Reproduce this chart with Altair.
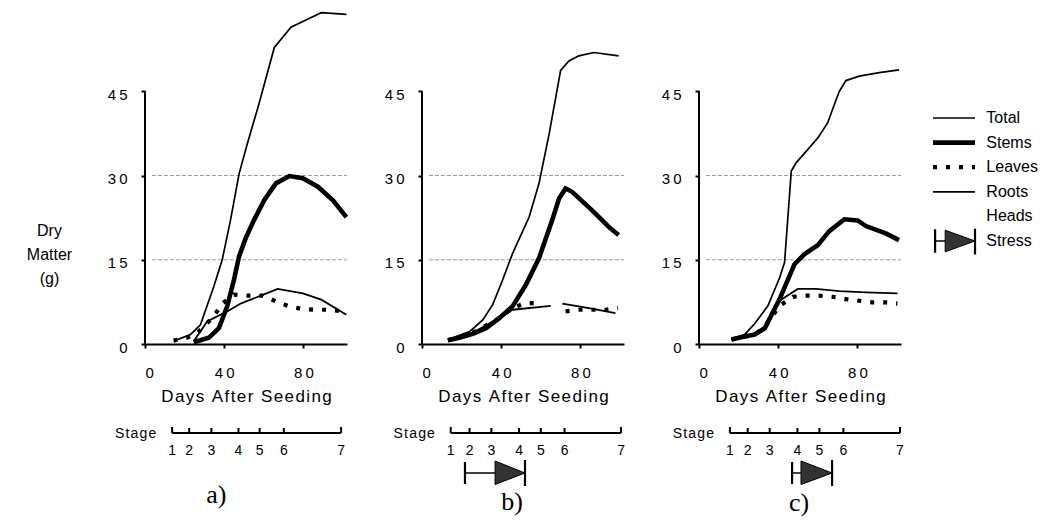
import altair as alt
import pandas as pd

# ---------------- data: days after seeding vs dry matter (g) ----------------
# a) no stress
A_TOTAL_DAY = [15.0, 23.0, 28.0, 34.7, 39.0, 43.2, 47.5, 51.7, 57.6, 65.3, 73.7, 79.7, 89.0, 101.7]
A_TOTAL = [0.6, 1.7, 3.4, 10.2, 15.0, 22.1, 30.3, 35.7, 42.8, 52.8, 56.4, 57.4, 59.0, 58.7]
A_STEMS_DAY = [24.6, 32.2, 37.3, 41.5, 44.9, 47.5, 50.8, 55.1, 60.2, 66.1, 72.9, 79.7, 87.3, 94.9, 101.7]
A_STEMS = [0.3, 1.1, 2.8, 6.7, 11.4, 15.6, 18.8, 22.1, 25.6, 28.6, 29.9, 29.5, 28.0, 25.6, 22.6]
A_LEAVES_DAY = [14.4, 21.2, 27.0, 32.2, 36.4, 39.0, 44.9, 52.5, 59.3, 66.1, 72.9, 79.7, 86.4, 93.2, 100.0]
A_LEAVES = [0.6, 1.1, 2.2, 4.0, 5.8, 7.2, 8.8, 8.6, 8.6, 7.6, 6.7, 6.2, 6.1, 6.1, 5.8]
A_ROOTS_DAY = [24.6, 31.4, 41.5, 48.3, 58.5, 67.0, 79.7, 89.0, 101.7]
A_ROOTS = [0.5, 4.0, 5.8, 7.2, 8.6, 9.8, 9.0, 7.9, 5.2]

# b) early stress (None marks a break in the record)
B_TOTAL_DAY = [13.1, 24.0, 30.7, 35.7, 40.7, 45.7, 54.1, 59.1, 64.2, 70.0, 74.2, 79.2, 86.8, 99.3]
B_TOTAL = [0.8, 2.2, 4.3, 7.0, 11.4, 16.1, 22.6, 28.6, 37.4, 48.7, 50.4, 51.3, 51.9, 51.3]
B_STEMS_DAY = [13.1, 18.9, 25.6, 32.3, 39.0, 45.7, 52.4, 59.1, 65.8, 69.2, 72.5, 75.8, 85.9, 95.1, 99.3]
B_STEMS = [0.65, 1.1, 1.8, 2.8, 4.6, 6.7, 10.5, 15.3, 22.1, 25.9, 27.7, 27.1, 23.8, 20.6, 19.4]
B_LEAVES_DAY = [13.1, 25.6, 39.0, 45.7, 52.4, 59.1, 65.5, 72.5, 79.2, 85.9, 92.6, 99.0]
B_LEAVES = [0.65, 2.0, 4.6, 6.4, 7.3, 7.2, None, 5.8, 6.1, 6.1, 6.1, 6.4]
B_ROOTS_DAY = [13.1, 25.6, 39.0, 45.7, 65.0, 68.0, 70.9, 84.3, 97.7]
B_ROOTS = [0.65, 2.0, 4.6, 6.1, 6.8, None, 7.2, 6.4, 5.5]

# c) late stress
C_TOTAL_DAY = [16.4, 23.1, 28.1, 34.8, 40.7, 43.2, 46.6, 49.1, 54.1, 60.0, 65.0, 68.3, 70.9, 74.2, 80.9, 91.0, 101.0]
C_TOTAL = [0.9, 1.7, 3.6, 6.8, 11.8, 14.5, 30.8, 32.3, 34.3, 36.7, 39.4, 42.6, 45.0, 46.9, 47.7, 48.3, 48.8]
C_STEMS_DAY = [16.4, 22.3, 28.1, 33.2, 40.7, 48.2, 53.3, 60.0, 65.8, 73.4, 80.1, 84.3, 94.3, 101.0]
C_STEMS = [0.8, 1.3, 1.7, 2.8, 8.0, 14.2, 16.0, 17.6, 20.1, 22.2, 22.0, 21.0, 19.7, 18.5]
C_LEAVES_DAY = [16.4, 28.1, 33.2, 40.7, 47.4, 54.1, 60.8, 67.5, 74.2, 80.9, 87.6, 94.3, 100.2]
C_LEAVES = [0.8, 1.7, 3.0, 6.8, 8.4, 8.6, 8.6, 8.4, 8.0, 7.7, 7.4, 7.4, 7.2]
C_ROOTS_DAY = [16.4, 28.1, 33.2, 40.7, 49.9, 59.1, 70.9, 84.3, 100.2]
C_ROOTS = [0.8, 1.7, 3.0, 7.7, 9.8, 9.8, 9.4, 9.2, 9.0]

# growth stages (day at which each stage begins) and stress windows
STAGE_LABELS = ["1", "2", "3", "4", "5", "6", "7"]
A_STAGE_DAYS = [13.7, 22.3, 33.5, 47.2, 57.9, 70.1, 99.0]
B_STAGE_DAYS = [14.5, 24.0, 35.0, 49.0, 60.0, 72.0, 100.5]
C_STAGE_DAYS = [15.6, 24.6, 35.7, 49.7, 60.8, 72.9, 101.5]
B_STRESS = [21.7, 36.9, 52.0]   # start, arrow head start, end
C_STRESS = [47.0, 51.5, 67.2]

X_TICKS = [0, 40, 80]
Y_TICKS = [0, 15, 30, 45]
GRID_VALUES = [15, 30]
PARTS = ["Total", "Stems", "Leaves", "Roots"]
LEGEND_ITEMS = ["Total", "Stems", "Leaves", "Roots", "Heads", "Stress"]

# ---------------- styling ----------------
SANS = "Liberation Sans"
SERIF = "Liberation Serif"
THIN = "\u2009"
HAIR = "\u200a"
PART_STYLE = {
    "Total": dict(strokeWidth=1.7),
    "Stems": dict(strokeWidth=4.6),
    "Leaves": dict(strokeWidth=4.2, strokeDash=[4, 9]),
    "Roots": dict(strokeWidth=1.8),
}
LABEL_EXPR = "join(split(datum.label, ''), '" + THIN + "')"


def spaced(text, gap=HAIR):
    return gap.join(text)


def series_frame(series):
    rows = []
    for part, (days, values) in series.items():
        seg = 0
        for d, v in zip(days, values):
            if v is None:
                seg += 1
                continue
            rows.append({"part": part, "seg": f"{part}{seg}", "day": d, "value": v})
    return pd.DataFrame(rows)


X_SCALE = alt.Scale(domain=[0, 102], nice=False, zero=False)
Y_SCALE = alt.Scale(domain=[0, 60], nice=False)
STAGE_Y = alt.Scale(domain=[0, 10], range=[508, 408])
LEG_X = alt.Scale(domain=[0, 1], range=[234, 276])
LEG_Y = alt.Scale(domain=[0, 5], range=[111, 234])


def x_axis():
    return alt.Axis(values=X_TICKS, title=spaced("Days After Seeding"), grid=False,
                    domainColor="black", domainWidth=2, tickColor="black", tickWidth=2,
                    tickSize=4, labelFont=SANS, labelFontSize=15, labelColor="black",
                    labelPadding=17, labelExpr=LABEL_EXPR, titleFont=SANS, titleFontSize=17,
                    titleFontWeight="normal", titleColor="black", titlePadding=8)


def y_axis(with_title):
    kw = dict(values=Y_TICKS, grid=False, domain=False, tickColor="black", tickWidth=2,
              tickSize=4, labelFont=SANS, labelFontSize=15, labelColor="black",
              labelPadding=14, labelExpr=LABEL_EXPR, labelOffset=3)
    if with_title:
        kw.update(title=["Dry", "Matter", "(g)"], titleAngle=0, titleX=-96, titleY=223,
                  titleAlign="center", titleBaseline="middle", titleFont=SANS,
                  titleFontSize=16, titleFontWeight="normal", titleColor="black",
                  titleLineHeight=24)
    else:
        kw.update(title=None)
    return alt.Axis(**kw)


def main_layer(series, with_title):
    df = series_frame(series)
    X = alt.X("day:Q", scale=X_SCALE, axis=x_axis())
    Y = alt.Y("value:Q", scale=Y_SCALE, axis=y_axis(with_title))
    grid_df = pd.DataFrame({"day": [3.5] * len(GRID_VALUES), "day2": [102] * len(GRID_VALUES),
                            "value": GRID_VALUES})
    grid = alt.Chart(grid_df).mark_rule(color="#9a9a9a", strokeWidth=1, strokeDash=[4, 2]).encode(
        x=X, x2="day2:Q", y=Y)
    yline_df = pd.DataFrame({"day": [0], "value": [Y_TICKS[0]], "value2": [Y_TICKS[-1]]})
    yline = alt.Chart(yline_df).mark_rule(color="black", strokeWidth=2).encode(
        x=X, y=Y, y2="value2:Q")
    layers = [grid, yline]
    for part in PARTS:
        layers.append(
            alt.Chart(df).transform_filter(alt.datum.part == part)
            .mark_line(color="black", **PART_STYLE[part])
            .encode(x=X, y=Y, detail="seg:N")
        )
    return alt.layer(*layers)


def stage_layer(stage_days, stress, letter, letter_day, letter_y):
    X = alt.X("day:Q", scale=X_SCALE, axis=None)
    Y = alt.Y("y:Q", scale=STAGE_Y, axis=None)
    tops = [8.8] + [8.7] * (len(stage_days) - 2) + [8.8]
    ticks_df = pd.DataFrame({"day": stage_days, "y": [8.2] * len(stage_days), "y2": tops,
                             "label": STAGE_LABELS, "ly": [6.4] * len(stage_days)})
    base_df = pd.DataFrame({"day": [stage_days[0]], "day2": [stage_days[-1]], "y": [8.2]})
    word_df = pd.DataFrame({"day": [stage_days[0] - 8], "y": [8.1], "text": [spaced("Stage")]})
    letter_df = pd.DataFrame({"day": [letter_day], "y": [letter_y], "text": [letter]})

    layers = [
        alt.Chart(base_df).mark_rule(color="black", strokeWidth=2).encode(x=X, x2="day2:Q", y=Y),
        alt.Chart(ticks_df).mark_rule(color="black", strokeWidth=2).encode(x=X, y=Y, y2="y2:Q"),
        alt.Chart(ticks_df).mark_text(font=SANS, fontSize=14, color="black", baseline="middle")
        .encode(x=X, y=alt.Y("ly:Q", scale=STAGE_Y, axis=None), text="label:N"),
        alt.Chart(word_df).mark_text(font=SANS, fontSize=14, color="black", align="right",
                                     baseline="middle").encode(x=X, y=Y, text="text:N"),
        alt.Chart(letter_df).mark_text(font=SERIF, fontSize=26, color="black", baseline="middle")
        .encode(x=X, y=Y, text="text:N"),
    ]
    if stress:
        s0, t0, s1 = stress
        bars_df = pd.DataFrame({"day": [s0, s1], "y": [3.1, 2.9], "y2": [5.3, 5.5]})
        link_df = pd.DataFrame({"day": [s0], "day2": [t0], "y": [4.2]})
        tri_df = pd.DataFrame({"day": [t0, s1], "y": [3.05, 4.2], "y2": [5.4, 4.2]})
        layers += [
            alt.Chart(tri_df).mark_area(fill="#333333", stroke="black", strokeWidth=1)
            .encode(x=X, y=Y, y2="y2:Q"),
            alt.Chart(link_df).mark_rule(color="black", strokeWidth=1.5)
            .encode(x=X, x2="day2:Q", y=Y),
            alt.Chart(bars_df).mark_rule(color="black", strokeWidth=2.2)
            .encode(x=X, y=Y, y2="y2:Q"),
        ]
    return alt.layer(*layers)


def legend_layer():
    X = alt.X("pos:Q", scale=LEG_X, axis=None)
    Y = alt.Y("row:Q", scale=LEG_Y, axis=None)
    layers = []
    for i, part in enumerate(PARTS):
        d = pd.DataFrame({"pos": [0], "pos2": [1], "row": [i]})
        layers.append(alt.Chart(d).mark_rule(color="black", **PART_STYLE[part])
                      .encode(x=X, x2="pos2:Q", y=Y))
    labels_df = pd.DataFrame({"pos": [1.27] * len(LEGEND_ITEMS),
                              "row": list(range(len(LEGEND_ITEMS))), "label": LEGEND_ITEMS})
    layers.append(alt.Chart(labels_df).mark_text(font=SANS, fontSize=16, color="black",
                                                 align="left", baseline="middle")
                  .encode(x=X, y=Y, text="label:N"))
    r = LEGEND_ITEMS.index("Stress")
    tri_df = pd.DataFrame({"pos": [0.29, 1.0], "row": [r - 0.44, r], "row2": [r + 0.44, r]})
    link_df = pd.DataFrame({"pos": [0.05], "pos2": [0.29], "row": [r]})
    bars_df = pd.DataFrame({"pos": [0.05, 1.0], "row": [r - 0.48, r - 0.5], "row2": [r + 0.48, r + 0.55]})
    layers += [
        alt.Chart(tri_df).mark_area(fill="#333333", stroke="black", strokeWidth=1)
        .encode(x=X, y=Y, y2="row2:Q"),
        alt.Chart(link_df).mark_rule(color="black", strokeWidth=1.5).encode(x=X, x2="pos2:Q", y=Y),
        alt.Chart(bars_df).mark_rule(color="black", strokeWidth=2.2).encode(x=X, y=Y, y2="row2:Q"),
    ]
    return alt.layer(*layers)


def panel(series, with_title, stage_days, stress, letter, letter_day, letter_y, legend=False):
    layers = [main_layer(series, with_title),
              stage_layer(stage_days, stress, letter, letter_day, letter_y)]
    if legend:
        layers.append(legend_layer())
    return (alt.layer(*layers)
            .resolve_scale(x="independent", y="independent")
            .properties(width=202, height=337))


panel_a = panel({"Total": (A_TOTAL_DAY, A_TOTAL), "Stems": (A_STEMS_DAY, A_STEMS),
                 "Leaves": (A_LEAVES_DAY, A_LEAVES), "Roots": (A_ROOTS_DAY, A_ROOTS)},
                True, A_STAGE_DAYS, None, "a)", 36, 2.0)
panel_b = panel({"Total": (B_TOTAL_DAY, B_TOTAL), "Stems": (B_STEMS_DAY, B_STEMS),
                 "Leaves": (B_LEAVES_DAY, B_LEAVES), "Roots": (B_ROOTS_DAY, B_ROOTS)},
                False, B_STAGE_DAYS, B_STRESS, "b)", 45.5, 1.3)
panel_c = panel({"Total": (C_TOTAL_DAY, C_TOTAL), "Stems": (C_STEMS_DAY, C_STEMS),
                 "Leaves": (C_LEAVES_DAY, C_LEAVES), "Roots": (C_ROOTS_DAY, C_ROOTS)},
                False, C_STAGE_DAYS, C_STRESS, "c)", 50.5, 1.2, legend=True)

chart = (
    alt.hconcat(panel_a, panel_b, panel_c, spacing=75, bounds="flush")
    .properties(padding={"left": 26, "top": 7, "right": 4, "bottom": 0}, background="white")
    .configure_view(stroke=None)
)

chart.save("out.html", embed_options={"renderer": "svg", "actions": False})
